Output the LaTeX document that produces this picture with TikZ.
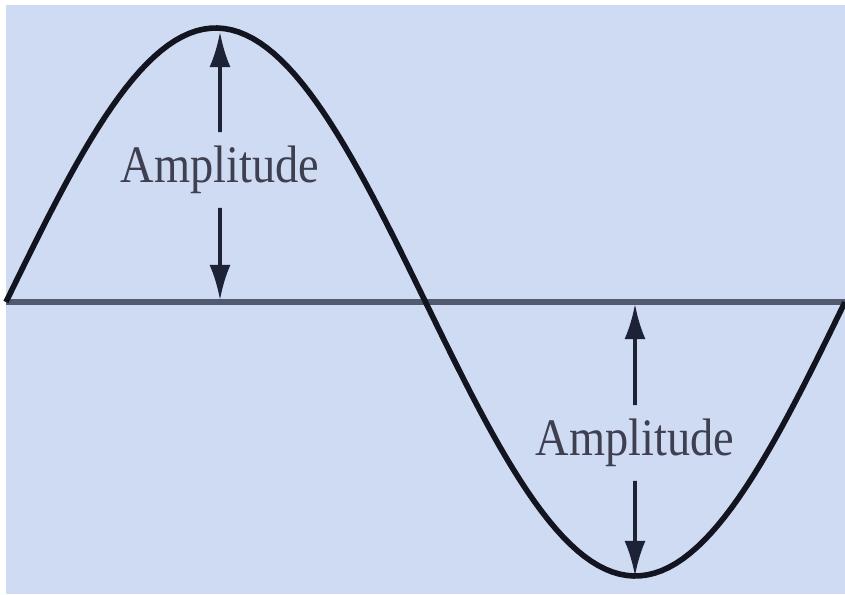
\documentclass[tikz,border=0pt]{standalone}
\usepackage{fontspec}
\setmainfont{Liberation Serif}
\usepackage{tikz}
\usetikzlibrary{arrows.meta,positioning,calc}
\definecolor{paleblue}{RGB}{207,219,242}
\definecolor{axisgray}{RGB}{82,90,112}
\definecolor{wavedark}{RGB}{18,20,32}
\definecolor{arrowdark}{RGB}{30,34,54}
\definecolor{labelgray}{RGB}{62,64,82}

\begin{document}
\begin{tikzpicture}[
  wave/.style={line width=1.6pt,draw=wavedark},
  axisline/.style={line width=1.5pt,draw=axisgray},
  amp/.style={font=\fontsize{15}{17}\selectfont,text=labelgray,inner xsep=0pt,inner ysep=3.8pt,xscale=0.88,transform shape},
  arr/.style={-{Latex[length=10pt,width=6pt]},line width=1pt,draw=arrowdark}
]
\useasboundingbox (0,0) rectangle (8.45,5.94);
\fill[white] (0,0) rectangle (8.45,5.94);
\fill[paleblue] (0.06,0) rectangle (8.46,5.89);

% axis and wave
\coordinate (start) at (0.06,2.92);
\coordinate (stop) at (8.45,2.92);
\draw[axisline] (start) -- (stop);
\draw[wave] plot[domain=0.06:8.45,samples=120] ({\x},{2.92+2.74*sin(((\x-0.06)/8.39*360))});

% amplitude markers
\node[amp] (ampup) at (2.20,4.24) {Amplitude};
\node[amp] (ampdown) at (6.35,1.51) {Amplitude};
\coordinate (peak) at (2.20,5.62);
\coordinate (peakbase) at (2.20,2.94);
\coordinate (trough) at (6.35,0.18);
\coordinate (troughbase) at (6.35,2.90);

\draw[arr] (ampup) -- (peak);
\draw[arr] (ampup) -- (peakbase);
\draw[arr] (ampdown) -- (troughbase);
\draw[arr] (ampdown) -- (trough);
\end{tikzpicture}
\end{document}
